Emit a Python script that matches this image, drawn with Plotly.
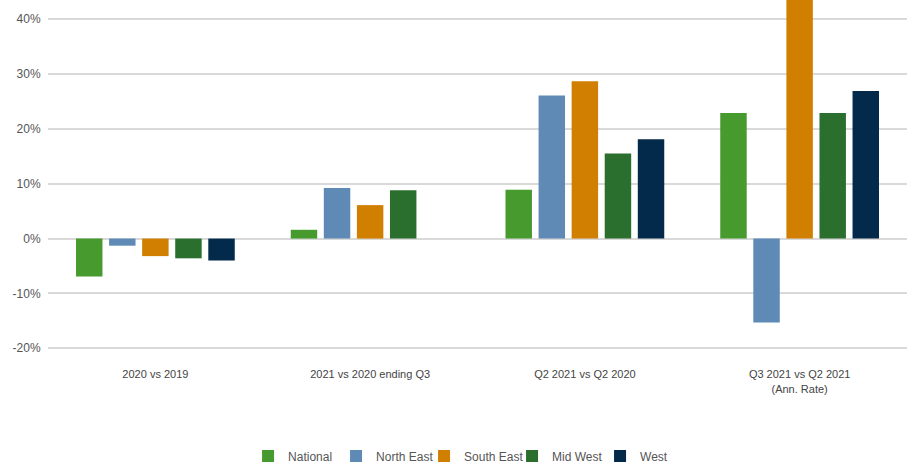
import plotly.graph_objects as go

# Period-over-period change by region
categories = [
    "2020 vs 2019",
    "2021 vs 2020 ending Q3",
    "Q2 2021 vs Q2 2020",
    "Q3 2021 vs Q2 2021<br>(Ann. Rate)",
]
national = [-6.9, 1.6, 8.9, 22.9]
north_east = [-1.3, 9.2, 26.1, -15.3]
south_east = [-3.2, 6.1, 28.7, 50.0]
mid_west = [-3.6, 8.8, 15.5, 22.9]
west = [-4.0, None, 18.1, 26.9]

series = [
    ("National", national, "#469a2e"),
    ("North East", north_east, "#5f8ab6"),
    ("South East", south_east, "#d07f00"),
    ("Mid West", mid_west, "#2a6f2e"),
    ("West", west, "#042a4b"),
]

fig = go.Figure()
for name, values, color in series:
    fig.add_trace(go.Bar(
        name=name,
        x=categories,
        y=values,
        marker=dict(color=color, line=dict(width=0)),
    ))

font_family = "Liberation Sans, Arial, sans-serif"

fig.update_layout(
    width=918,
    height=464,
    margin=dict(l=48, r=11, t=0, b=113),
    paper_bgcolor="white",
    plot_bgcolor="white",
    barmode="group",
    bargap=0.23,
    bargroupgap=0.2,
    font=dict(family=font_family, color="#555555"),
    showlegend=True,
    legend=dict(
        orientation="h",
        xref="container",
        yref="container",
        x=0.2702,
        xanchor="left",
        y=0.0172,
        yanchor="middle",
        entrywidth=43,
        font=dict(size=12, color="#555555"),
        traceorder="normal",
    ),
    xaxis=dict(
        showgrid=False,
        showline=False,
        zeroline=False,
        ticks="outside",
        ticklen=13,
        tickcolor="rgba(0,0,0,0)",
        tickfont=dict(size=11, color="#444444"),
    ),
    yaxis=dict(
        range=[-20.5, 43.5],
        tickvals=[-20, -10, 0, 10, 20, 30, 40],
        ticktext=["-20%", "-10%", "0%", "10%", "20%", "30%", "40%"],
        showgrid=True,
        gridcolor="#d9d9d9",
        gridwidth=1.5,
        zeroline=True,
        zerolinecolor="#d9d9d9",
        zerolinewidth=1.5,
        showline=False,
        ticks="outside",
        ticklen=4,
        tickcolor="rgba(0,0,0,0)",
        tickfont=dict(size=12, color="#555555"),
    ),
)

fig.write_html("out.html")
